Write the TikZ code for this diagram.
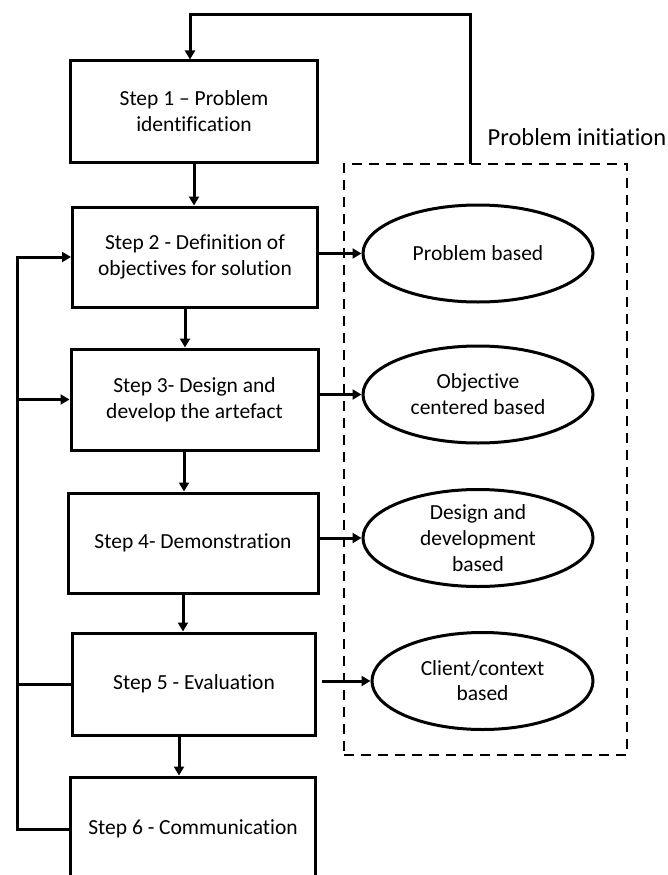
\documentclass[tikz,border=0pt]{standalone}
\usepackage{fontspec}
\setmainfont{Carlito}[Ligatures=CommonOff]
\usetikzlibrary{shapes.geometric}
\usetikzlibrary{arrows.meta}

\tikzset{
  stepbox/.style={draw,line width=3pt,minimum width=245pt,minimum height=100pt,
    inner sep=0pt,align=center,font=\fontsize{21.5}{26}\selectfont},
  goal/.style={draw,ellipse,line width=3pt,minimum width=230pt,minimum height=97pt,
    inner sep=0pt,align=center,font=\fontsize{21.5}{26}\selectfont},
  arr/.style={line width=3pt,-{Triangle[length=9pt,width=10pt]}},
  bus/.style={line width=3pt}
}

\begin{document}
\begin{tikzpicture}[x=1pt,y=-1pt]
  \useasboundingbox (0,0) rectangle (667,875);
  \clip (0,0) rectangle (667,875);

  % steps
  \node[stepbox,minimum width=247pt,minimum height=101pt] (s1) at (194,111.5) {Step 1 – Problem\\identification};
  \node[stepbox] (s2) at (195,257) {Step 2 - Definition of\\objectives for solution};
  \node[stepbox,minimum width=247pt,minimum height=101pt] (s3) at (194.5,399.5) {Step 3- Design and\\develop the artefact};
  \node[stepbox,minimum width=250pt] (s4) at (193,543) {Step 4- Demonstration};
  \node[stepbox,minimum width=243.5pt,minimum height=102pt] (s5) at (194,684) {Step 5 - Evaluation};
  \node[stepbox,minimum width=245.5pt,minimum height=104pt] (s6) at (193,829) {Step 6 - Communication};

  % problem initiation
  \node[draw,dash pattern=on 10pt off 7pt,line width=2.6pt,minimum width=283pt,minimum height=591pt] (init) at (485.5,459.5) {};
  \node[font=\fontsize{24.5}{28}\selectfont] (initlbl) at (577,137) {Problem initiation};
  \node[goal] (e1) at (478,253.5) {Problem based};
  \node[goal] (e2) at (478,394.5) {Objective\\centered based};
  \node[goal] (e3) at (478,538) {Design and\\development\\based};
  \node[goal,minimum width=221pt,font=\fontsize{21.5}{25}\selectfont] (e4) at (482.5,681) {Client/context\\based};

  \foreach \a/\b/\d in {s1/s2/0,s2/s3/-10,s3/s4/-10.5,s4/s5/-10,s5/s6/-15}
    \draw[arr] ([xshift=\d pt]\a.south) -- ([xshift=\d pt]\a.south |- \b.north);

  \draw[arr] (e1.west -| s2.east) -- (e1.west);
  \draw[arr] (e2.west -| s3.east) -- (e2.west);
  \draw[arr] (e3.west -| s4.east) -- (e3.west);
  \draw[arr] ([xshift=5pt]e4.west -| s5.east) -- (e4.west);

  % feedback loops
  \coordinate (fb) at (470,164);
  \coordinate (fbtop) at (470,15);
  \draw[arr] (fb) -- (fbtop) -| ([xshift=-4pt]s1.north);

  \coordinate (b2) at (17,257);
  \draw[arr] (s6.west) -| (b2) -- (s2.west);
  \draw[arr] (s3.west -| b2) -- (s3.west);
  \draw[bus] (s5.west -| b2) -- (s5.west);
\end{tikzpicture}
\end{document}
